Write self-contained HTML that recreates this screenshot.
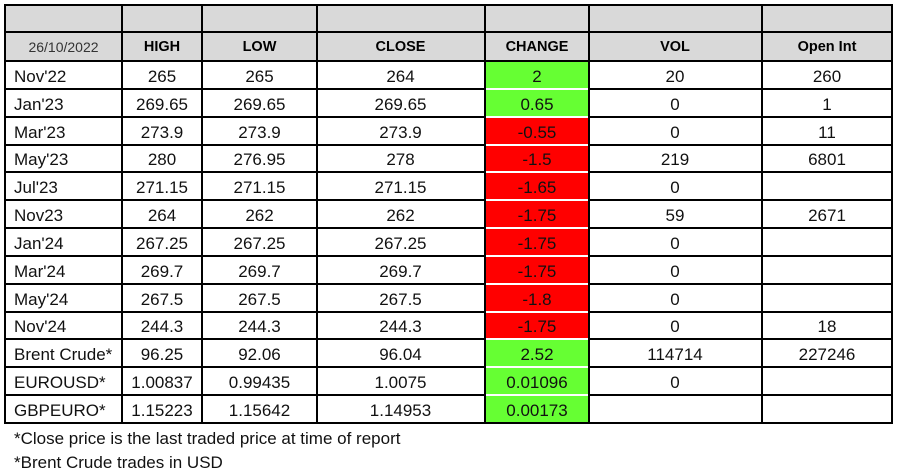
<!DOCTYPE html>
<html>
<head>
<meta charset="utf-8">
<style>
  html, body { margin:0; padding:0; background:#fff; }
  body { width:898px; height:476px; position:relative; overflow:hidden; font-family:"Liberation Sans", Arial, sans-serif; color:#111; }
  .abs { position:absolute; }
  .hl { position:absolute; height:2px; background:#000; }
  .vl { position:absolute; width:2px; background:#000; }
  .c { position:absolute; text-align:center; white-space:nowrap; font-size:17px; line-height:28px; }
  .l { position:absolute; text-align:left; white-space:nowrap; font-size:17px; line-height:28px; }
  .h { position:absolute; text-align:center; white-space:nowrap; font-size:14.5px; font-weight:bold; line-height:29px; color:#000; }
  .g { position:absolute; background:#66FF33; }
  .r { position:absolute; background:#FF0000; }
  .foot { position:absolute; left:14px; font-size:17px; line-height:24px; white-space:nowrap; color:#111; }
</style>
</head>
<body>
<div class="abs" style="left:5px;top:5px;width:887px;height:56px;background:#D9D9D9;"></div>

<div class="g" style="left:486px;top:62px;width:102px;height:26px;"></div>
<div class="g" style="left:486px;top:90px;width:102px;height:26px;"></div>
<div class="r" style="left:486px;top:118px;width:102px;height:26px;"></div>
<div class="r" style="left:486px;top:146px;width:102px;height:25px;"></div>
<div class="r" style="left:486px;top:173px;width:102px;height:26px;"></div>
<div class="r" style="left:486px;top:201px;width:102px;height:26px;"></div>
<div class="r" style="left:486px;top:229px;width:102px;height:26px;"></div>
<div class="r" style="left:486px;top:257px;width:102px;height:26px;"></div>
<div class="r" style="left:486px;top:285px;width:102px;height:26px;"></div>
<div class="r" style="left:486px;top:313px;width:102px;height:25px;"></div>
<div class="g" style="left:486px;top:340px;width:102px;height:26px;"></div>
<div class="g" style="left:486px;top:368px;width:102px;height:26px;"></div>
<div class="g" style="left:486px;top:396px;width:102px;height:26px;"></div>

<div class="hl" style="left:4px;top:4px;width:889px;"></div>
<div class="hl" style="left:4px;top:31px;width:889px;"></div>
<div class="hl" style="left:4px;top:60px;width:889px;"></div>
<div class="hl" style="left:4px;top:88px;width:481px;"></div><div class="hl" style="left:589px;top:88px;width:304px;"></div>
<div class="hl" style="left:4px;top:116px;width:481px;"></div><div class="hl" style="left:589px;top:116px;width:304px;"></div>
<div class="hl" style="left:4px;top:144px;width:481px;"></div><div class="hl" style="left:589px;top:144px;width:304px;"></div>
<div class="hl" style="left:4px;top:171px;width:481px;"></div><div class="hl" style="left:589px;top:171px;width:304px;"></div>
<div class="hl" style="left:4px;top:199px;width:481px;"></div><div class="hl" style="left:589px;top:199px;width:304px;"></div>
<div class="hl" style="left:4px;top:227px;width:481px;"></div><div class="hl" style="left:589px;top:227px;width:304px;"></div>
<div class="hl" style="left:4px;top:255px;width:481px;"></div><div class="hl" style="left:589px;top:255px;width:304px;"></div>
<div class="hl" style="left:4px;top:283px;width:481px;"></div><div class="hl" style="left:589px;top:283px;width:304px;"></div>
<div class="hl" style="left:4px;top:311px;width:481px;"></div><div class="hl" style="left:589px;top:311px;width:304px;"></div>
<div class="hl" style="left:4px;top:338px;width:481px;"></div><div class="hl" style="left:589px;top:338px;width:304px;"></div>
<div class="hl" style="left:4px;top:366px;width:481px;"></div><div class="hl" style="left:589px;top:366px;width:304px;"></div>
<div class="hl" style="left:4px;top:394px;width:481px;"></div><div class="hl" style="left:589px;top:394px;width:304px;"></div>
<div class="hl" style="left:4px;top:422px;width:889px;"></div>

<div class="vl" style="left:4px;top:4px;height:420px;"></div>
<div class="vl" style="left:121px;top:4px;height:420px;"></div>
<div class="vl" style="left:201px;top:4px;height:420px;"></div>
<div class="vl" style="left:316px;top:4px;height:420px;"></div>
<div class="vl" style="left:484px;top:4px;height:420px;"></div>
<div class="vl" style="left:588px;top:4px;height:420px;"></div>
<div class="vl" style="left:761px;top:4px;height:420px;"></div>
<div class="vl" style="left:891px;top:4px;height:420px;"></div>

<div class="h" style="left:5px;width:117px;top:33px;font-weight:normal;font-size:14px;color:#333;">26/10/2022</div>
<div class="h" style="left:122px;width:80px;top:33px;">HIGH</div>
<div class="h" style="left:202px;width:115px;top:33px;">LOW</div>
<div class="h" style="left:317px;width:167px;top:33px;">CLOSE</div>
<div class="h" style="left:485px;width:104px;top:33px;">CHANGE</div>
<div class="h" style="left:589px;width:172px;top:33px;">VOL</div>
<div class="h" style="left:762px;width:130px;top:33px;">Open Int</div>

<div class="l" style="left:14px;top:63px;">Nov'22</div>
<div class="c" style="left:122px;width:80px;top:63px;">265</div>
<div class="c" style="left:202px;width:115px;top:63px;">265</div>
<div class="c" style="left:317px;width:167px;top:63px;">264</div>
<div class="c" style="left:485px;width:104px;top:63px;">2</div>
<div class="c" style="left:589px;width:172px;top:63px;">20</div>
<div class="c" style="left:762px;width:130px;top:63px;">260</div>

<div class="l" style="left:14px;top:91px;">Jan'23</div>
<div class="c" style="left:122px;width:80px;top:91px;">269.65</div>
<div class="c" style="left:202px;width:115px;top:91px;">269.65</div>
<div class="c" style="left:317px;width:167px;top:91px;">269.65</div>
<div class="c" style="left:485px;width:104px;top:91px;">0.65</div>
<div class="c" style="left:589px;width:172px;top:91px;">0</div>
<div class="c" style="left:762px;width:130px;top:91px;">1</div>

<div class="l" style="left:14px;top:119px;">Mar'23</div>
<div class="c" style="left:122px;width:80px;top:119px;">273.9</div>
<div class="c" style="left:202px;width:115px;top:119px;">273.9</div>
<div class="c" style="left:317px;width:167px;top:119px;">273.9</div>
<div class="c" style="left:485px;width:104px;top:119px;">-0.55</div>
<div class="c" style="left:589px;width:172px;top:119px;">0</div>
<div class="c" style="left:762px;width:130px;top:119px;">11</div>

<div class="l" style="left:14px;top:146px;">May'23</div>
<div class="c" style="left:122px;width:80px;top:146px;">280</div>
<div class="c" style="left:202px;width:115px;top:146px;">276.95</div>
<div class="c" style="left:317px;width:167px;top:146px;">278</div>
<div class="c" style="left:485px;width:104px;top:146px;">-1.5</div>
<div class="c" style="left:589px;width:172px;top:146px;">219</div>
<div class="c" style="left:762px;width:130px;top:146px;">6801</div>

<div class="l" style="left:14px;top:174px;">Jul'23</div>
<div class="c" style="left:122px;width:80px;top:174px;">271.15</div>
<div class="c" style="left:202px;width:115px;top:174px;">271.15</div>
<div class="c" style="left:317px;width:167px;top:174px;">271.15</div>
<div class="c" style="left:485px;width:104px;top:174px;">-1.65</div>
<div class="c" style="left:589px;width:172px;top:174px;">0</div>

<div class="l" style="left:14px;top:202px;">Nov23</div>
<div class="c" style="left:122px;width:80px;top:202px;">264</div>
<div class="c" style="left:202px;width:115px;top:202px;">262</div>
<div class="c" style="left:317px;width:167px;top:202px;">262</div>
<div class="c" style="left:485px;width:104px;top:202px;">-1.75</div>
<div class="c" style="left:589px;width:172px;top:202px;">59</div>
<div class="c" style="left:762px;width:130px;top:202px;">2671</div>

<div class="l" style="left:14px;top:230px;">Jan'24</div>
<div class="c" style="left:122px;width:80px;top:230px;">267.25</div>
<div class="c" style="left:202px;width:115px;top:230px;">267.25</div>
<div class="c" style="left:317px;width:167px;top:230px;">267.25</div>
<div class="c" style="left:485px;width:104px;top:230px;">-1.75</div>
<div class="c" style="left:589px;width:172px;top:230px;">0</div>

<div class="l" style="left:14px;top:258px;">Mar'24</div>
<div class="c" style="left:122px;width:80px;top:258px;">269.7</div>
<div class="c" style="left:202px;width:115px;top:258px;">269.7</div>
<div class="c" style="left:317px;width:167px;top:258px;">269.7</div>
<div class="c" style="left:485px;width:104px;top:258px;">-1.75</div>
<div class="c" style="left:589px;width:172px;top:258px;">0</div>

<div class="l" style="left:14px;top:286px;">May'24</div>
<div class="c" style="left:122px;width:80px;top:286px;">267.5</div>
<div class="c" style="left:202px;width:115px;top:286px;">267.5</div>
<div class="c" style="left:317px;width:167px;top:286px;">267.5</div>
<div class="c" style="left:485px;width:104px;top:286px;">-1.8</div>
<div class="c" style="left:589px;width:172px;top:286px;">0</div>

<div class="l" style="left:14px;top:313px;">Nov'24</div>
<div class="c" style="left:122px;width:80px;top:313px;">244.3</div>
<div class="c" style="left:202px;width:115px;top:313px;">244.3</div>
<div class="c" style="left:317px;width:167px;top:313px;">244.3</div>
<div class="c" style="left:485px;width:104px;top:313px;">-1.75</div>
<div class="c" style="left:589px;width:172px;top:313px;">0</div>
<div class="c" style="left:762px;width:130px;top:313px;">18</div>

<div class="l" style="left:14px;top:341px;">Brent Crude*</div>
<div class="c" style="left:122px;width:80px;top:341px;">96.25</div>
<div class="c" style="left:202px;width:115px;top:341px;">92.06</div>
<div class="c" style="left:317px;width:167px;top:341px;">96.04</div>
<div class="c" style="left:485px;width:104px;top:341px;">2.52</div>
<div class="c" style="left:589px;width:172px;top:341px;">114714</div>
<div class="c" style="left:762px;width:130px;top:341px;">227246</div>

<div class="l" style="left:14px;top:369px;">EUROUSD*</div>
<div class="c" style="left:122px;width:80px;top:369px;">1.00837</div>
<div class="c" style="left:202px;width:115px;top:369px;">0.99435</div>
<div class="c" style="left:317px;width:167px;top:369px;">1.0075</div>
<div class="c" style="left:485px;width:104px;top:369px;">0.01096</div>
<div class="c" style="left:589px;width:172px;top:369px;">0</div>

<div class="l" style="left:14px;top:397px;">GBPEURO*</div>
<div class="c" style="left:122px;width:80px;top:397px;">1.15223</div>
<div class="c" style="left:202px;width:115px;top:397px;">1.15642</div>
<div class="c" style="left:317px;width:167px;top:397px;">1.14953</div>
<div class="c" style="left:485px;width:104px;top:397px;">0.00173</div>

<div class="foot" style="top:427px;">*Close price is the last traded price at time of report</div>
<div class="foot" style="top:451px;">*Brent Crude trades in USD</div>
</body>
</html>
